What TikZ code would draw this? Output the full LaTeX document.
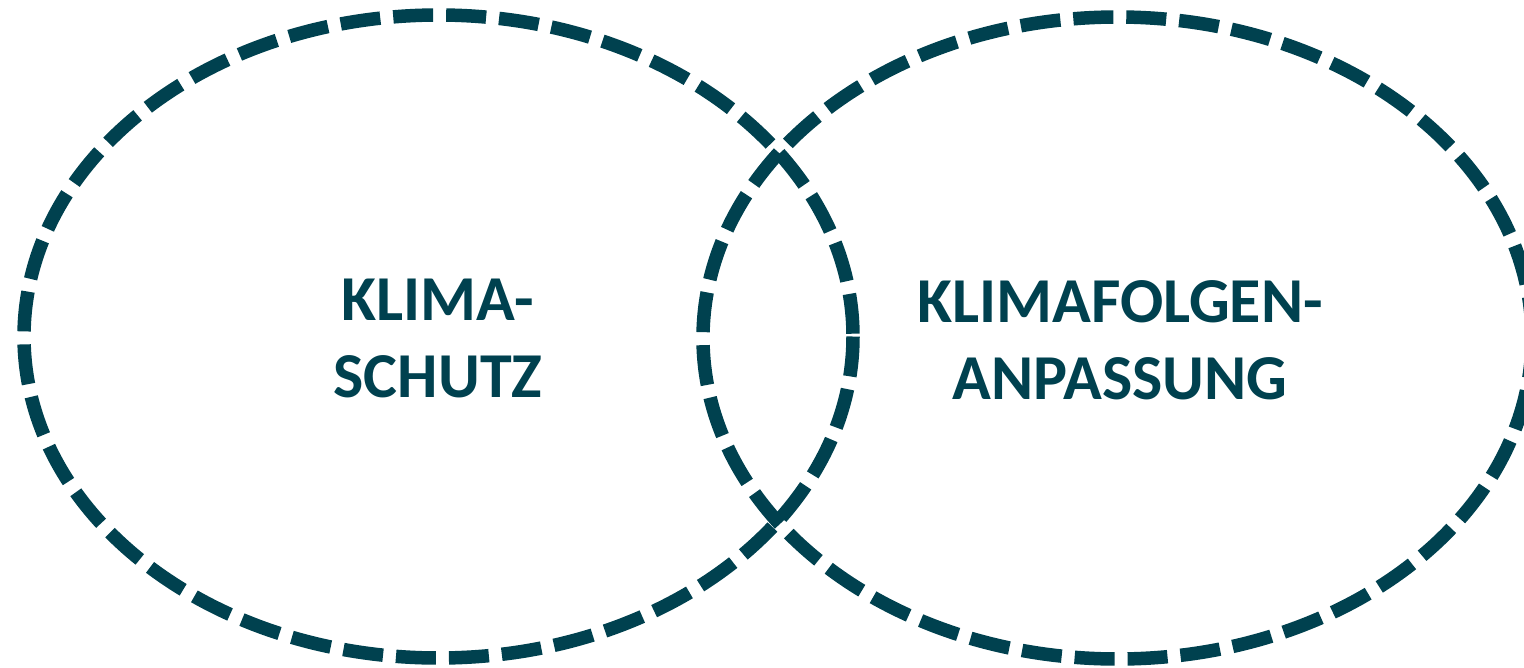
\documentclass[tikz,border=0pt]{standalone}
\usepackage{fontspec}
\setmainfont{Carlito}
\definecolor{teal}{HTML}{00414F}
\begin{document}
\begin{tikzpicture}[x=1pt,y=-1pt,
  ring/.style={draw=teal,line width=13.5pt,dash pattern=on 40pt off 13pt},
  label/.style={text=teal,font=\fontsize{64}{77}\selectfont\bfseries,align=center,inner sep=0pt}]
\useasboundingbox (0,0) rectangle (1524,667);
\draw[ring] (438.5,336.5) ellipse [x radius=414.5, y radius=321.5];
\draw[ring] (1117.5,338) ellipse [x radius=414.5, y radius=321];
\node[label] (ks) at (438,338) {KLIMA-\\SCHUTZ};
\node[label] (kfa) at (1120,340) {KLIMAFOLGEN-\\ANPASSUNG};
\end{tikzpicture}
\end{document}
